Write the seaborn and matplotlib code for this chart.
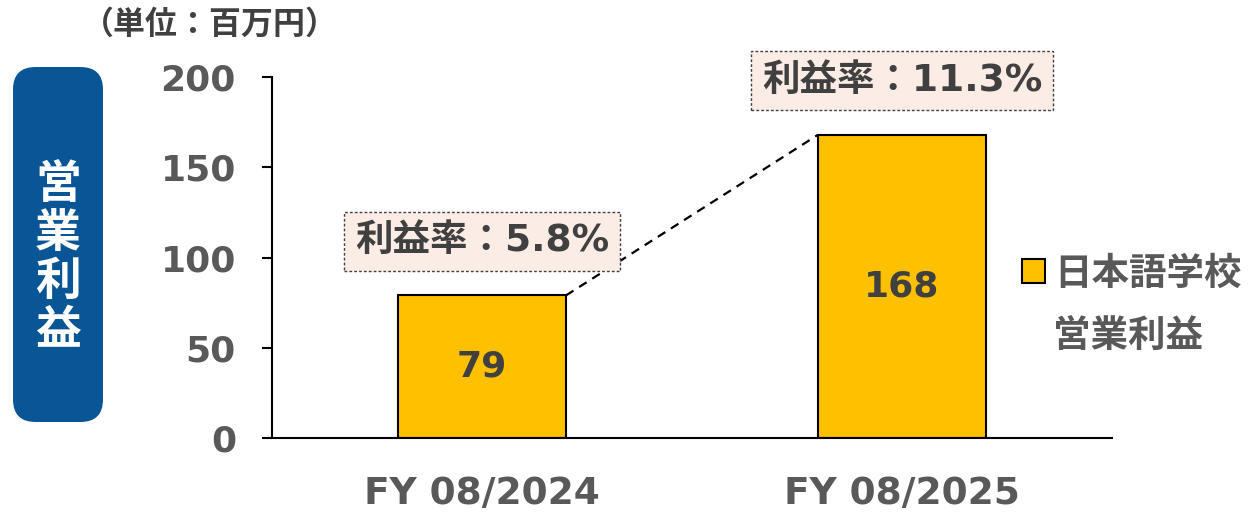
import matplotlib
matplotlib.use("Agg")
import matplotlib.pyplot as plt
from matplotlib.patches import FancyBboxPatch
import seaborn as sns
import pandas as pd

# データ
categories = ["FY 08/2024", "FY 08/2025"]
profit = [79, 168]
margin_labels = ["利益率：5.8%", "利益率：11.3%"]
legend_label = "日本語学校"
legend_label2 = "営業利益"
unit_label = "（単位：百万円）"
side_title = "営業利益"
y_ticks = [0, 50, 100, 150, 200]

sns.set_style("white")
plt.rcParams["font.family"] = ["Noto Sans CJK JP", "DejaVu Sans"]

GRAY = "#595959"
DARK = "#404040"
BAR = "#FFC000"
NUM_FONT = ["DejaVu Sans", "Noto Sans CJK JP"]

df = pd.DataFrame({"cat": categories, "val": profit})

fig = plt.figure(figsize=(12.55, 5.19), dpi=100)
ax = fig.add_axes([272 / 1255, 1 - 438 / 519, 840 / 1255, 361 / 519])

sns.barplot(data=df, x="cat", y="val", color=BAR, saturation=1,
            width=0.4, edgecolor="black", linewidth=1.5, ax=ax)
ax.set_xlim(-0.5, 1.5)
ax.set_ylim(0, 200)
ax.set_yticks(y_ticks)
ax.set_xlabel("")
ax.set_ylabel("")

for s in ["top", "right"]:
    ax.spines[s].set_visible(False)
for s in ["left", "bottom"]:
    ax.spines[s].set_color("black")
    ax.spines[s].set_linewidth(1.5)

ax.tick_params(axis="y", length=7, width=1.5, color="black", pad=19, left=True)
ax.tick_params(axis="x", length=0, pad=27)
for t in ax.get_yticklabels():
    t.set_fontfamily(NUM_FONT)
    t.set_fontsize(26)
    t.set_fontweight("bold")
    t.set_color(GRAY)
for t in ax.get_xticklabels():
    t.set_fontfamily(NUM_FONT)
    t.set_fontsize(27)
    t.set_fontweight("bold")
    t.set_color(GRAY)

# バー内の数値
ax.bar_label(ax.containers[0], labels=[str(v) for v in profit], label_type="center",
             fontsize=26, fontweight="bold", color=DARK, family=NUM_FONT)

# 破線（バー上端の角を結ぶ）
p1, p2 = ax.patches[0], ax.patches[1]
ax.plot([p1.get_x() + p1.get_width(), p2.get_x()], [p1.get_height(), p2.get_height()],
        color="black", linestyle=(0, (4, 3)), linewidth=1.6, clip_on=False)

# 利益率ボックス
for i, (v, lab) in enumerate(zip(profit, margin_labels)):
    ax.text(i, v + 30, lab, ha="center", va="center", fontsize=27, fontweight="bold",
            color=DARK, family=NUM_FONT, clip_on=False,
            bbox=dict(boxstyle="square,pad=0.3", facecolor="#FBECE6",
                      edgecolor=DARK, linestyle=(0, (2, 1.5)), linewidth=1))

# 凡例
leg = ax.legend([p1], [legend_label], loc="center left",
                bbox_to_anchor=(1022 / 1255, 1 - 273 / 519), bbox_transform=fig.transFigure,
                frameon=False, fontsize=27, handlelength=0.6, handleheight=0.6,
                handletextpad=0.25, borderpad=0, borderaxespad=0)
for t in leg.get_texts():
    t.set_color(GRAY)
    t.set_fontweight("bold")
fig.text(1053 / 1255, 1 - 335 / 519, legend_label2, ha="left", va="center",
         fontsize=27, fontweight="bold", color=GRAY)

# 単位
fig.text(82 / 1255, 1 - 25 / 519, unit_label, ha="left", va="center",
         fontsize=23, fontweight="bold", color=DARK)

# 左側の青いラベル
box = FancyBboxPatch((13 / 1255, 1 - 422 / 519), 90 / 1255, 355 / 519,
                     boxstyle="round,pad=0,rounding_size=0.018",
                     transform=fig.transFigure, facecolor="#0A5595",
                     edgecolor="none", mutation_aspect=1255 / 519)
fig.patches.append(box)
fig.text(58 / 1255, 1 - 258 / 519, "\n".join(side_title), ha="center", va="center",
         fontsize=33, fontweight="bold", color="white", linespacing=1.07)

fig.savefig("out.png", dpi=100)
